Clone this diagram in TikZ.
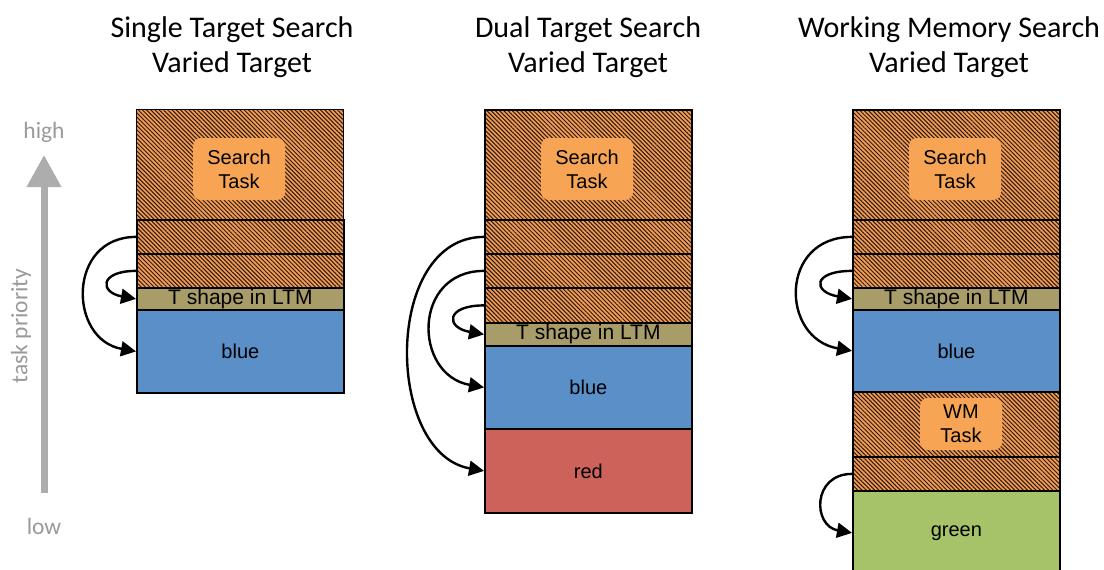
\documentclass[tikz,border=0pt]{standalone}
\usepackage{fontspec}
\setmainfont{Liberation Sans}
\newfontfamily\titlefont{Carlito}
\usetikzlibrary{patterns.meta,arrows.meta}
\definecolor{hatchbg}{HTML}{F29B55}
\definecolor{hatchln}{HTML}{2A1A0E}
\definecolor{taskbox}{HTML}{F7A455}
\definecolor{tband}{HTML}{A89D68}
\definecolor{bluec}{HTML}{5A8FC8}
\definecolor{redc}{HTML}{CC625A}
\definecolor{greenc}{HTML}{A7C36A}
\definecolor{grayarrow}{HTML}{ADADAD}
\definecolor{graytext}{HTML}{9A9A9A}
\tikzset{
  sec/.style={draw=black, line width=1.8pt, minimum width=207pt, inner sep=0pt,
    anchor=north west, font=\fontsize{20}{24}\selectfont},
  hatch/.style={sec, preaction={fill=hatchbg},
    pattern={Lines[angle=-45,distance=3pt,line width=1pt]}, pattern color=hatchln},
  tsec/.style={sec, fill=tband, font=\fontsize{21}{24}\selectfont},
  taskbx/.style={fill=taskbox, rounded corners=8pt, inner sep=0pt,
    font=\fontsize{20}{24}\selectfont, align=center},
  title/.style={font=\titlefont\fontsize{30}{35}\selectfont, align=center},
  conn/.style={line width=2.4pt, -{Triangle[width=15pt,length=15pt]}},
  prio/.style={text=graytext, font=\titlefont\fontsize{23.5}{26}\selectfont}
}
\begin{document}
\begin{tikzpicture}[x=1pt,y=-1pt]
\useasboundingbox (0,0) rectangle (1104,570);
% titles
\node[title] (t1) at (232,47) {Single Target Search\\Varied Target};
\node[title] (t2) at (588,47) {Dual Target Search\\Varied Target};
\node[title] (t3) at (949,47) {Working Memory Search\\Varied Target};
% priority axis
\node[prio] (hi) at (44,132) {high};
\node[prio] (lo) at (44,526) {low};
\node[prio, rotate=90] (tp) at (21,326) {task priority};
\coordinate (ga) at (44,493);
\coordinate (gb) at (44,155);
\draw[grayarrow, line width=7pt, -{Triangle[width=33pt,length=32pt]}] (ga) -- (gb);
% panel 1
\node[hatch, minimum height=110pt] (p1a) at (136,109) {};
\node[hatch, minimum height=34pt] (p1b) at (136,219) {};
\node[hatch, minimum height=34pt] (p1c) at (136,253) {};
\node[tsec, minimum height=22pt] (p1t) at (136,287) {T shape in LTM};
\node[sec, fill=bluec, minimum height=83pt] (p1u) at (136,309) {blue};
\node[taskbx, minimum width=92pt, minimum height=62pt] (p1k) at (239,169) {Search\\Task};
\draw[conn] (p1b.west) to[out=180,in=170,distance=69pt] (p1u.west);
\draw[conn] (p1c.west) to[out=180,in=170,distance=37pt] (p1t.west);
% panel 2
\node[hatch, minimum height=110pt] (p2a) at (484,109) {};
\node[hatch, minimum height=34pt] (p2b) at (484,219) {};
\node[hatch, minimum height=34pt] (p2c) at (484,253) {};
\node[hatch, minimum height=35pt] (p2d) at (484,287) {};
\node[tsec, minimum height=23pt] (p2t) at (484,322) {T shape in LTM};
\node[sec, fill=bluec, minimum height=83pt] (p2u) at (484,345) {blue};
\node[sec, fill=redc, minimum height=84pt] (p2r) at (484,428) {red};
\node[taskbx, minimum width=92pt, minimum height=62pt] (p2k) at (587,169) {Search\\Task};
\draw[conn] (p2b.west) to[out=180,in=170,distance=101pt] (p2r.west);
\draw[conn] (p2c.west) to[out=180,in=170,distance=72pt] (p2u.west);
\draw[conn] (p2d.west) to[out=180,in=170,distance=39pt] (p2t.west);
% panel 3
\node[hatch, minimum height=110pt] (p3a) at (852,109) {};
\node[hatch, minimum height=34pt] (p3b) at (852,219) {};
\node[hatch, minimum height=34pt] (p3c) at (852,253) {};
\node[tsec, minimum height=22pt] (p3t) at (852,287) {T shape in LTM};
\node[sec, fill=bluec, minimum height=82pt] (p3u) at (852,309) {blue};
\node[hatch, minimum height=65pt] (p3w) at (852,391) {};
\node[hatch, minimum height=34pt] (p3e) at (852,456) {};
\node[sec, fill=greenc, minimum height=84pt] (p3g) at (852,490) {green};
\node[taskbx, minimum width=92pt, minimum height=62pt] (p3k) at (955,169) {Search\\Task};
\node[taskbx, minimum width=82pt, minimum height=52pt] (p3m) at (961,424) {WM\\Task};
\draw[conn] (p3b.west) to[out=180,in=170,distance=73pt] (p3u.west);
\draw[conn] (p3c.west) to[out=180,in=170,distance=40pt] (p3t.west);
\draw[conn] (p3e.west) to[out=180,in=170,distance=40pt] (p3g.west);
\end{tikzpicture}
\end{document}
